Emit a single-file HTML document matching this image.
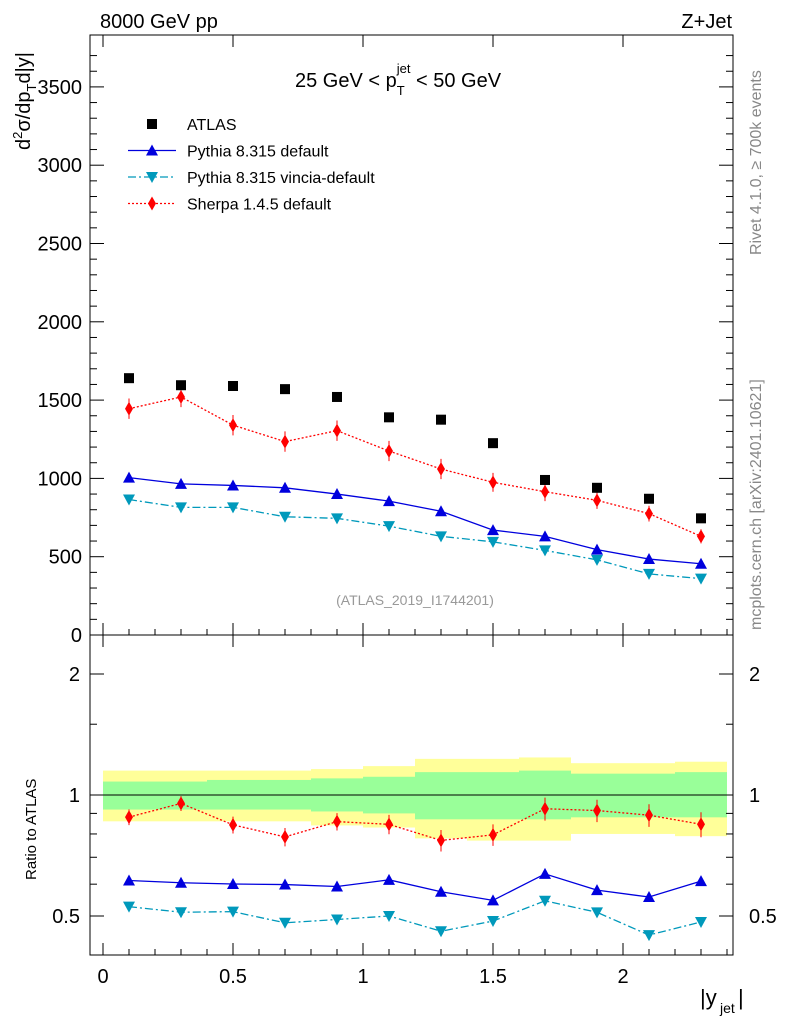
<!DOCTYPE html>
<html><head><meta charset="utf-8"><style>
body{margin:0;background:#fff;font-family:"Liberation Sans",sans-serif;}
svg text{font-family:"Liberation Sans",sans-serif;}
</style></head><body>
<svg id="c" width="786" height="1024" xmlns="http://www.w3.org/2000/svg"></svg>
<script>
const xCenters=[0.1,0.3,0.5,0.7,0.9,1.1,1.3,1.5,1.7,1.9,2.1,2.3];
const atlas=[1640,1595,1590,1570,1520,1390,1375,1225,990,940,870,745];
const pythia=[1005,965,955,940,900,855,790,670,630,545,485,455];
const vincia=[865,815,815,755,745,695,630,595,540,480,390,360];
const sherpa=[1445,1520,1340,1235,1305,1175,1060,975,915,860,775,630];
const sherpaErr=[65,65,65,65,65,65,65,60,60,55,50,45];
const yellowUp=[0.15,0.15,0.15,0.15,0.16,0.18,0.23,0.23,0.24,0.2,0.2,0.21];
const yellowDn=[0.14,0.14,0.14,0.14,0.16,0.17,0.22,0.23,0.23,0.2,0.2,0.21];
const greenUp=[0.08,0.08,0.09,0.09,0.1,0.11,0.14,0.14,0.15,0.13,0.13,0.14];
const greenDn=[0.08,0.08,0.08,0.08,0.09,0.1,0.13,0.13,0.13,0.12,0.12,0.12];
const mainTicks=[0,500,1000,1500,2000,2500,3000,3500];
const ratioTicks=[0.5,1,2];
const xTicks=[0,0.5,1,1.5,2];

const S=document.getElementById('c');const NS='http://www.w3.org/2000/svg';
function el(t,a,name,p){const e=document.createElementNS(NS,t);for(const k in a)e.setAttribute(k,a[k]);


(p||S).appendChild(e);return e;}
function txt(x,y,s,name,o){const e=el('text',Object.assign({x:x,y:y,'font-size':20},o||{}),name);e.textContent=s;return e;}
const L=90,R=733,T=35,MB=635,RB=955;
const X=v=>103+v*260;
const Y=v=>635-v*0.1566;
const RY=r=>795-121*Math.log2(r);

// bands
xCenters.forEach((c,i)=>{
 el('rect',{x:X(c-0.1),y:RY(1+yellowUp[i]),width:52,height:RY(1-yellowDn[i])-RY(1+yellowUp[i]),fill:'#ffff99'},'yellow-band');
});
xCenters.forEach((c,i)=>{
 el('rect',{x:X(c-0.1),y:RY(1+greenUp[i]),width:52,height:RY(1-greenDn[i])-RY(1+greenUp[i]),fill:'#99ff99'},'green-band');
});
el('line',{x1:L,x2:R,y1:RY(1),y2:RY(1),stroke:'#000'},'unity-line');

// frames
el('rect',{x:L,y:T,width:R-L,height:MB-T,fill:'none',stroke:'#000'},'main-frame');
el('rect',{x:L,y:MB,width:R-L,height:RB-MB,fill:'none',stroke:'#000'},'ratio-frame');

// x ticks
xTicks.forEach(v=>{[MB,RB].forEach(b=>{el('line',{x1:X(v),x2:X(v),y1:b,y2:b-12,stroke:'#000'},'x-tick');el('line',{x1:X(v),x2:X(v),y1:b-600+(b==MB?0:320)-(b==MB?0:0),y2:0,stroke:'none'},'x-tick-spacer');
 el('line',{x1:X(v),x2:X(v),y1:b==MB?T:MB,y2:(b==MB?T:MB)+12,stroke:'#000'},'x-tick-top');});
 txt(X(v),983,String(v),'x-tick-label',{'text-anchor':'middle'});});
for(let v=0.1;v<2.45;v+=0.1){if(Math.abs(v*2-Math.round(v*2))<1e-6)continue;[MB,RB].forEach(b=>{el('line',{x1:X(v),x2:X(v),y1:b,y2:b-6,stroke:'#000'},'x-minor-tick');});}
txt(700,1005,'|y',"x-axis-title",{'font-size':22});
txt(720,1013,'jet','x-axis-title-sub',{'font-size':14});
txt(738,1005,'|','x-axis-title-bar',{'font-size':22});

// main y ticks
mainTicks.forEach(v=>{el('line',{x1:L,x2:L+14,y1:Y(v),y2:Y(v),stroke:'#000'},'y-tick');el('line',{x1:R,x2:R-14,y1:Y(v),y2:Y(v),stroke:'#000'},'y-tick-right');
 txt(L-8,Y(v)+7,String(v),'y-tick-label',{'text-anchor':'end'});});
for(let v=100;v<3800;v+=100){if(v%500==0)continue;el('line',{x1:L,x2:L+7,y1:Y(v),y2:Y(v),stroke:'#000'},'y-minor-tick');el('line',{x1:R,x2:R-7,y1:Y(v),y2:Y(v),stroke:'#000'},'y-minor-tick-right');}
ratioTicks.forEach(v=>{el('line',{x1:L,x2:L+14,y1:RY(v),y2:RY(v),stroke:'#000'},'ratio-tick');el('line',{x1:R,x2:R-14,y1:RY(v),y2:RY(v),stroke:'#000'},'ratio-tick-right');
 txt(L-10,RY(v)+7,String(v),'ratio-tick-label',{'text-anchor':'end'});txt(R+16,RY(v)+7,String(v),'ratio-tick-label-right');});
[0.6,0.7,0.8,0.9,1.5].forEach(v=>{el('line',{x1:L,x2:L+7,y1:RY(v),y2:RY(v),stroke:'#000'},'ratio-minor');el('line',{x1:R,x2:R-7,y1:RY(v),y2:RY(v),stroke:'#000'},'ratio-minor-right');});

// titles
txt(100,28,'8000 GeV pp','title-left');
txt(732,28,'Z+Jet','title-right',{'text-anchor':'end'});
const yt=txt(0,0,'d²σ/dp_Td|y|','y-axis-title',{'font-size':20,transform:'translate(30,150) rotate(-90)'});
yt.textContent='';yt.innerHTML='d<tspan font-size="13" dy="-8">2</tspan><tspan dy="8">σ/dp</tspan><tspan font-size="13" dy="6">T</tspan><tspan dy="-6">d|y|</tspan>';
txt(0,0,'Ratio to ATLAS','ratio-axis-title',{'font-size':15,transform:'translate(36,880) rotate(-90)'});
const st=txt(295,87,'','subtitle');st.innerHTML='25 GeV &lt; p<tspan font-size="13" dy="8">T</tspan><tspan font-size="13" dx="-8" dy="-22">jet</tspan><tspan dy="14"> &lt; 50 GeV</tspan>';
txt(415,605,'(ATLAS_2019_I1744201)','analysis-id',{'font-size':14,fill:'#999','text-anchor':'middle'});
txt(0,0,'Rivet 4.1.0, ≥ 700k events','rivet-label',{'font-size':16,fill:'#888',transform:'translate(761,255) rotate(-90)'});
txt(0,0,'mcplots.cern.ch [arXiv:2401.10621]','mcplots-label',{'font-size':16,fill:'#888',transform:'translate(761,630) rotate(-90)'});

// markers
function marker(type,x,y,col,name){
 if(type=='sq')el('rect',{x:x-5,y:y-5,width:10,height:10,fill:col},name);
 else if(type=='up')el('polygon',{points:`${x},${y-6} ${x-6},${y+5} ${x+6},${y+5}`,fill:col},name);
 else if(type=='dn')el('polygon',{points:`${x},${y+6} ${x-6},${y-5} ${x+6},${y-5}`,fill:col},name);
 else el('polygon',{points:`${x},${y-7} ${x-4},${y} ${x},${y+7} ${x+4},${y}`,fill:col},name);}
function series(vals,yf,col,dash,type,name,err){
 el('polyline',{points:vals.map((v,i)=>X(xCenters[i])+','+yf(v,i)).join(' '),fill:'none',stroke:col,'stroke-width':1.3,'stroke-dasharray':dash},name+'-line');
 vals.forEach((v,i)=>{if(err){el('line',{x1:X(xCenters[i]),x2:X(xCenters[i]),y1:yf(v+err[i],i),y2:yf(v-err[i],i),stroke:col},name+'-errbar');}
 marker(type,X(xCenters[i]),yf(v,i),col,name+'-point');});}
const col={p:'#0000dd',v:'#0099bb',s:'#ff0000'};
series(pythia,v=>Y(v),col.p,'','up','pythia');
series(vincia,v=>Y(v),col.v,'8,3,2,3','dn','vincia');
series(sherpa,v=>Y(v),col.s,'2,2','dia','sherpa',sherpaErr);
atlas.forEach((v,i)=>marker('sq',X(xCenters[i]),Y(v),'#000','atlas-point'));
const rat=(arr)=>(v,i)=>RY(v/atlas[i]);
series(pythia,rat(pythia),col.p,'','up','pythia-ratio');
series(vincia,rat(vincia),col.v,'8,3,2,3','dn','vincia-ratio');
series(sherpa,rat(sherpa),col.s,'2,2','dia','sherpa-ratio',sherpaErr);

// legend
const lg=[['sq','#000','','ATLAS'],['up',col.p,'','Pythia 8.315 default'],['dn',col.v,'8,3,2,3','Pythia 8.315 vincia-default'],['dia',col.s,'2,2','Sherpa 1.4.5 default']];
lg.forEach((l,i)=>{const y=124+i*26.5;
 if(l[0]!='sq')el('line',{x1:128,x2:176,y1:y,y2:y,stroke:l[1],'stroke-width':1.3,'stroke-dasharray':l[2]},'legend-line');
 marker(l[0],152,y,l[1],'legend-marker');txt(187,y+6,l[3],'legend-entry',{'font-size':16});});
</script>
</body></html>
